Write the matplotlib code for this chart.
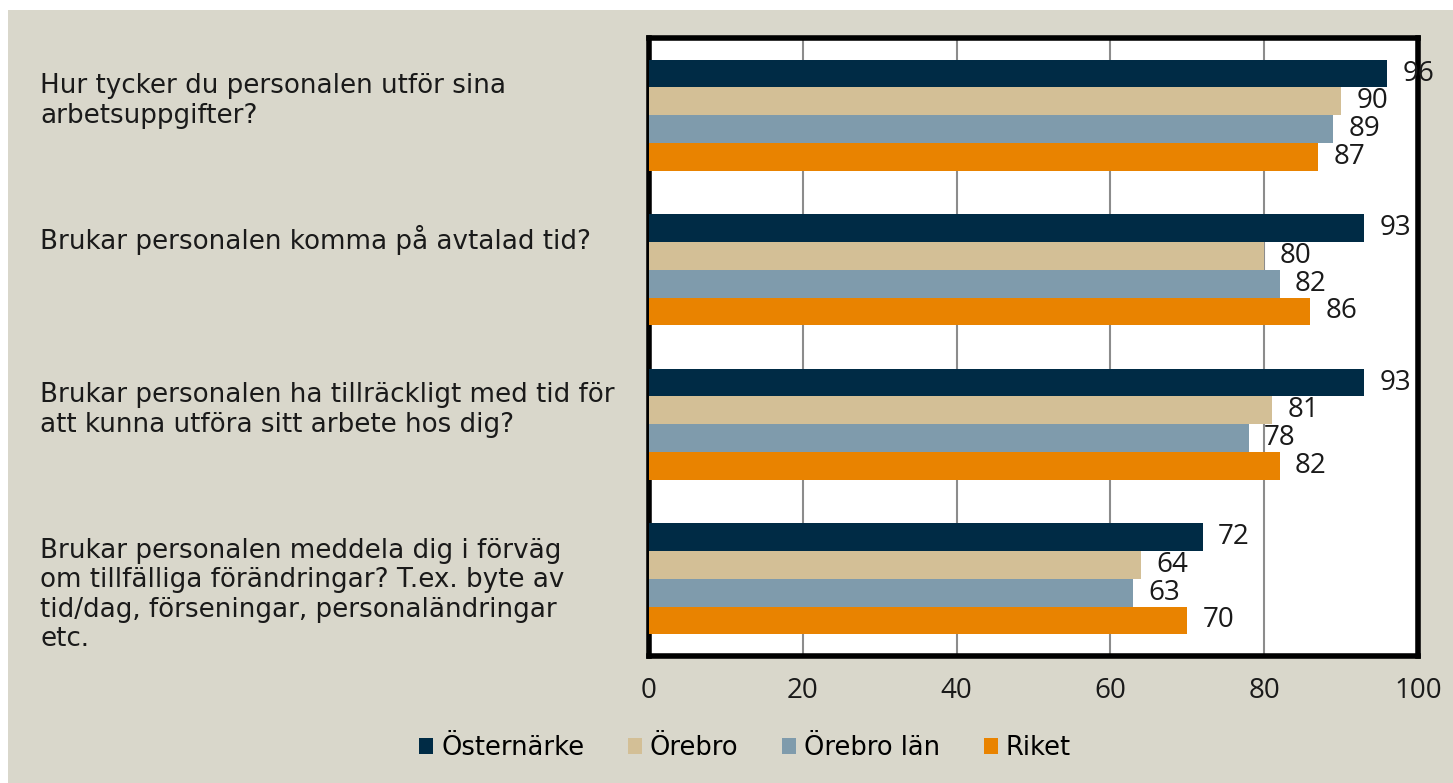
import numpy as np
import matplotlib as mpl
mpl.use('Agg')
from matplotlib import pyplot as plt
from matplotlib.patches import Rectangle

plt.rcParams['font.family'] = ['DejaVu Sans']

questions = [
    "Hur tycker du personalen utför sina\narbetsuppgifter?",
    "Brukar personalen komma på avtalad tid?",
    "Brukar personalen ha tillräckligt med tid för\natt kunna utföra sitt arbete hos dig?",
    "Brukar personalen meddela dig i förväg\nom tillfälliga förändringar? T.ex. byte av\ntid/dag, förseningar, personaländringar\netc.",
]
series_names = ["Östernärke", "Örebro", "Örebro län", "Riket"]
osternarke = [96, 93, 93, 72]
orebro = [90, 80, 81, 64]
orebro_lan = [89, 82, 78, 63]
riket = [87, 86, 82, 70]
colors = ["#002B45", "#D3BF96", "#7F9BAC", "#E98300"]
bg = "#D9D7CB"
num_font = ['Open Sans', 'DejaVu Sans']

W, H = 1453, 783
fig = plt.figure(figsize=(W / 100, H / 100), dpi=100)
fig.patch.set_facecolor('white')
fig.add_artist(Rectangle((8 / W, 0), 1, 1 - 10 / H, transform=fig.transFigure,
                         facecolor=bg, edgecolor='none', zorder=-10))

ax = fig.add_axes([649 / W, 1 - 656 / H, 769 / W, 618 / H])
ax.set_facecolor('white')

y = np.arange(len(questions))
h = 0.18
data = [osternarke, orebro, orebro_lan, riket]
for i, (vals, c, name) in enumerate(zip(data, colors, series_names)):
    pos = y + (i - 1.5) * h
    ax.barh(pos, vals, height=h, color=c, label=name, zorder=3)
    for p, v in zip(pos, vals):
        ax.text(v + 2.0, p, str(v), va='center', ha='left', fontsize=20,
                family=num_font, color='#1a1a1a', zorder=5)

ax.set_xlim(0, 100)
ax.set_ylim(len(questions) - 0.5, -0.5)
ax.set_xticks([0, 20, 40, 60, 80, 100])
ax.xaxis.grid(True, color='#8c8c8c', linewidth=1.5, zorder=0)
ax.tick_params(axis='x', length=0, pad=15, labelsize=20)
for lab in ax.get_xticklabels():
    lab.set_family(num_font)
    lab.set_color('#1a1a1a')
ax.set_yticks(y)
ax.set_yticklabels([])
ax.tick_params(axis='y', length=0)
for s in ax.spines.values():
    s.set_linewidth(4)
    s.set_color('black')

# category labels sit in their own text boxes to the left of the plot
label_y = [101, 240, 410, 595]
for ly, q in zip(label_y, questions):
    fig.text(40 / W, 1 - ly / H, q, ha='left', va='center',
             fontsize=18.8, color='#1a1a1a', linespacing=1.17)

fig.legend(loc='center', bbox_to_anchor=(745 / W, 1 - 748 / H), ncol=4, frameon=False,
           fontsize=18.5, handlelength=0.55, handleheight=0.55, handletextpad=0.3, columnspacing=1.7)

fig.savefig('out.png', dpi=100, facecolor=fig.get_facecolor())
